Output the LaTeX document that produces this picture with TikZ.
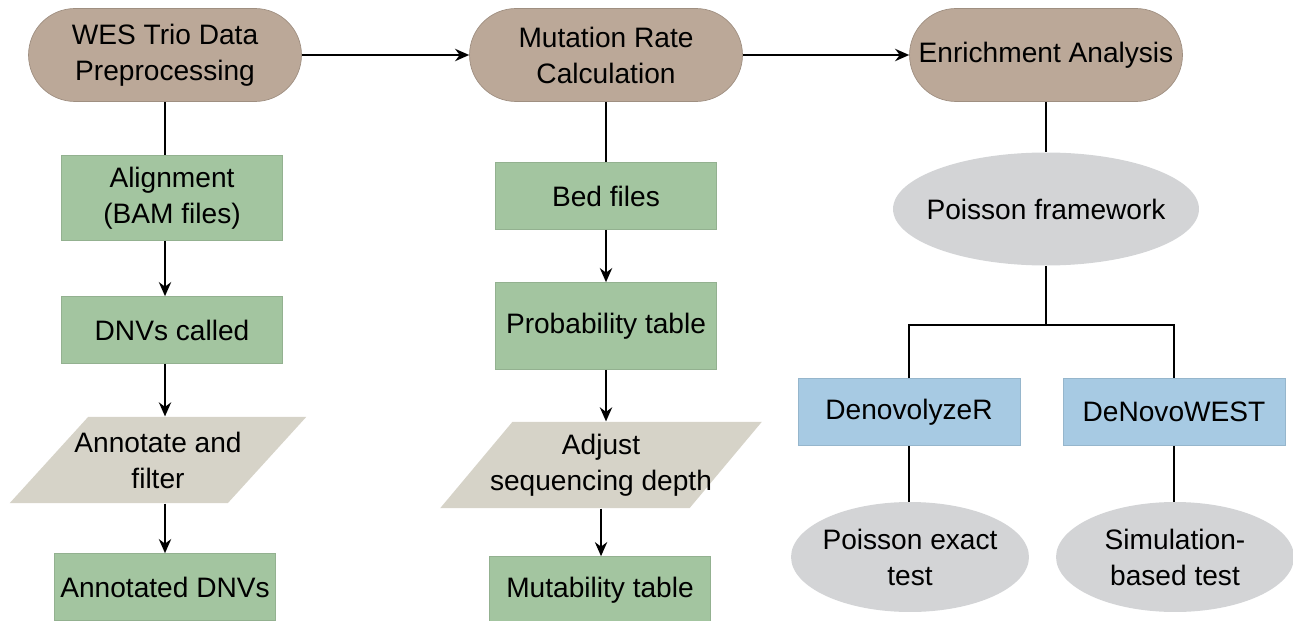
\documentclass[tikz,border=0pt]{standalone}
\usepackage{fontspec}
\setmainfont{Liberation Sans}
\usetikzlibrary{shapes.geometric,arrows.meta}

\definecolor{termfill}{RGB}{187,168,152}
\definecolor{procfill}{RGB}{163,197,160}
\definecolor{iofill}{RGB}{214,211,200}
\definecolor{toolfill}{RGB}{167,202,227}
\definecolor{testfill}{RGB}{211,212,214}

\begin{document}
\begin{tikzpicture}[x=0.02cm,y=-0.02cm,
  font=\fontsize{16}{20.5}\selectfont,
  term/.style={fill=termfill,draw=termfill!85!black,rounded corners=0.93cm,
    minimum width=5.46cm,minimum height=1.86cm,align=center},
  proc/.style={fill=procfill,draw=procfill!90!black,
    minimum width=4.42cm,minimum height=1.34cm,align=center},
  io/.style={trapezium,trapezium left angle=47.5,trapezium right angle=132.5,
    trapezium stretches=true,inner xsep=-16pt,fill=iofill,
    minimum height=1.73cm,align=center},
  tool/.style={fill=toolfill,draw=toolfill!90!black,
    minimum width=4.44cm,minimum height=1.34cm,align=center},
  test/.style={ellipse,fill=testfill,inner ysep=0pt,inner xsep=-3pt,
    minimum width=4.76cm,minimum height=2.2cm,align=center},
  link/.style={line width=1.1pt},
  flow/.style={link,-{Stealth[length=8pt,width=7pt]}}]
\useasboundingbox (0,0) rectangle (1293,621);

\node[term] (T1) at (165,55) {WES Trio Data\\Preprocessing};
\node[term] (T2) at (606,55) {Mutation Rate\\Calculation};
\node[term] (T3) at (1046,55) {Enrichment Analysis};

\node[proc,minimum height=1.7cm] (S11) at (172,198) {Alignment\\(BAM files)};
\node[proc] (S12) at (172,330) {DNVs called};
\node[io,minimum width=5.94cm] (S13) at (158,460) {Annotate and\\filter};
\node[proc] (S14) at (165,587) {Annotated DNVs};

\node[proc] (S21) at (606,196) {Bed files};
\node[proc,minimum height=1.74cm] (S22) at (606,326) {Probability table};
\node[io,minimum width=6.44cm] (S23) at (601,465) {Adjust\\sequencing depth};
\node[proc] (S24) at (600,590) {Mutability table};

\node[test,minimum width=6.12cm,minimum height=2.26cm,inner xsep=-7pt] (S31) at (1046,209) {Poisson framework};
\node[tool] (S32) at (909,412) {DenovolyzeR};
\node[tool] (S33) at (1174,412) {DeNovoWEST};
\node[test] (S34) at (910,557) {Poisson exact\\test};
\node[test] (S35) at (1175,557) {Simulation-\\based test};

\coordinate (J) at (1046,325);

\draw[flow] (T1.east) -- (T2.west);
\draw[flow] (T2.east) -- (T3.west);

\draw[link] (T1.south) -- (T1.south |- S11.north);
\draw[flow] (T1.south |- S11.south) -- (T1.south |- S12.north);
\draw[flow] (T1.south |- S12.south) -- (T1.south |- S13.north);
\draw[flow] (S14.north |- S13.south) -- (S14.north);

\draw[link] (T2.south) -- (S21.north);
\draw[flow] (S21.south) -- (S22.north);
\draw[flow] (S22.south) -- (S22.south |- S23.north);
\draw[flow] (S23.south) -- (S23.south |- S24.north);

\draw[link] (T3.south) -- (S31.north);
\draw[link] (S31.south) -- (J);
\draw[link] (S32.north) |- (J) -| (S33.north);
\draw[link] (S32.south) -- (S32.south |- S34.north);
\draw[link] (S33.south) -- (S33.south |- S35.north);

\end{tikzpicture}
\end{document}
